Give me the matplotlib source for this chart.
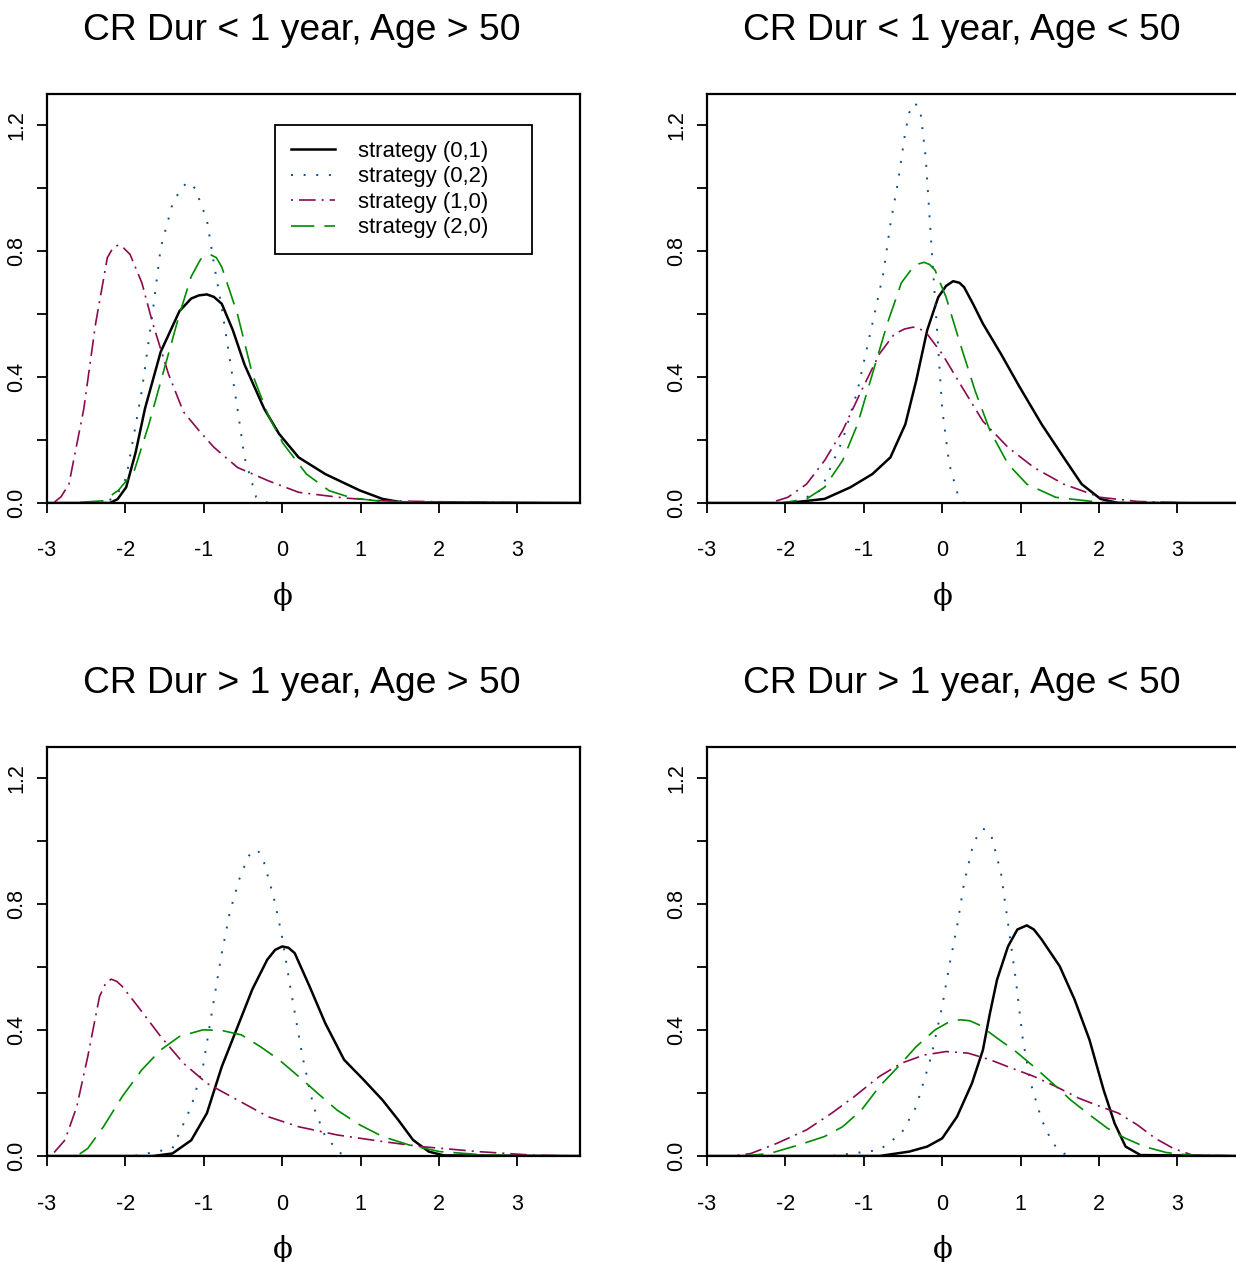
import matplotlib
matplotlib.use("Agg")
import matplotlib.pyplot as plt

plt.rcParams["font.family"] = ["Liberation Sans", "DejaVu Sans"]

# panel titles, in drawing order: TL, TR, BL, BR
titles = [
    "CR Dur < 1 year, Age > 50",
    "CR Dur < 1 year, Age < 50",
    "CR Dur > 1 year, Age > 50",
    "CR Dur > 1 year, Age < 50",
]
labels = ["strategy (0,1)", "strategy (0,2)", "strategy (1,0)", "strategy (2,0)"]

# ---- CR Dur < 1 year, Age > 50 ----
tl_s01_x = [-3.0, -2.2, -2.1, -1.99, -1.87, -1.75, -1.55, -1.31, -1.16, -1.06, -0.96, -0.87, -0.77, -0.63, -0.48, -0.23, -0.04, 0.21, 0.55, 0.99, 1.28, 1.53, 3.8]
tl_s01_y = [0.0, 0.0, 0.012, 0.05, 0.16, 0.30, 0.48, 0.61, 0.65, 0.66, 0.663, 0.655, 0.633, 0.55, 0.44, 0.30, 0.22, 0.145, 0.092, 0.04, 0.013, 0.002, 0.0]
tl_s02_x = [-3.0, -2.28, -2.12, -1.99, -1.79, -1.65, -1.55, -1.40, -1.30, -1.21, -1.11, -0.96, -0.87, -0.77, -0.67, -0.57, -0.48, -0.33, -0.18, 3.8]
tl_s02_y = [0.0, 0.0, 0.02, 0.08, 0.357, 0.61, 0.81, 0.95, 0.995, 1.02, 1.0, 0.90, 0.76, 0.62, 0.46, 0.30, 0.145, 0.018, 0.0, 0.0]
tl_s10_x = [-3.0, -2.92, -2.82, -2.72, -2.53, -2.38, -2.23, -2.16, -2.09, -2.02, -1.94, -1.79, -1.65, -1.45, -1.26, -1.06, -0.87, -0.57, -0.18, 0.21, 0.79, 1.28, 2.26, 3.48, 3.8]
tl_s10_y = [0.0, 0.0, 0.02, 0.06, 0.30, 0.57, 0.78, 0.81, 0.82, 0.81, 0.79, 0.70, 0.57, 0.41, 0.29, 0.23, 0.177, 0.113, 0.071, 0.034, 0.016, 0.007, 0.003, 0.0, 0.0]
tl_s20_x = [-3.0, -2.72, -2.28, -2.09, -1.89, -1.70, -1.50, -1.31, -1.16, -1.04, -0.92, -0.84, -0.77, -0.57, -0.38, -0.18, 0.01, 0.31, 0.60, 0.89, 1.28, 2.6, 3.8]
tl_s20_y = [0.0, 0.0, 0.007, 0.04, 0.10, 0.25, 0.43, 0.60, 0.72, 0.775, 0.79, 0.78, 0.75, 0.60, 0.41, 0.28, 0.19, 0.092, 0.039, 0.016, 0.005, 0.0, 0.0]

# ---- CR Dur < 1 year, Age < 50 ----
tr_s01_x = [-3.0, -1.97, -1.5, -1.17, -0.89, -0.66, -0.47, -0.33, -0.19, -0.05, 0.05, 0.14, 0.22, 0.28, 0.40, 0.52, 0.75, 0.99, 1.27, 1.55, 1.78, 2.02, 2.25, 3.8]
tr_s01_y = [0.0, 0.0, 0.013, 0.05, 0.092, 0.145, 0.25, 0.39, 0.55, 0.654, 0.69, 0.705, 0.70, 0.686, 0.63, 0.57, 0.474, 0.368, 0.25, 0.145, 0.06, 0.013, 0.0, 0.0]
tr_s02_x = [-3.0, -1.88, -1.55, -1.27, -1.08, -0.89, -0.75, -0.66, -0.56, -0.47, -0.42, -0.37, -0.32, -0.28, -0.21, -0.14, -0.07, 0.0, 0.09, 0.21, 0.28, 3.8]
tr_s02_y = [0.0, 0.0, 0.04, 0.20, 0.357, 0.57, 0.73, 0.887, 1.025, 1.18, 1.24, 1.27, 1.265, 1.25, 1.10, 0.83, 0.57, 0.30, 0.124, 0.018, 0.0, 0.0]
tr_s10_x = [-3.0, -2.2, -1.97, -1.73, -1.5, -1.27, -1.03, -0.80, -0.61, -0.48, -0.37, -0.28, -0.19, 0.0, 0.23, 0.52, 0.84, 1.17, 1.55, 2.02, 2.49, 3.19, 3.8]
tr_s10_y = [0.0, 0.0, 0.018, 0.06, 0.135, 0.23, 0.357, 0.474, 0.537, 0.553, 0.559, 0.553, 0.537, 0.474, 0.378, 0.26, 0.177, 0.113, 0.06, 0.018, 0.005, 0.0, 0.0]
tr_s20_x = [-3.0, -2.06, -1.73, -1.5, -1.27, -1.08, -0.89, -0.70, -0.52, -0.37, -0.30, -0.23, -0.16, -0.09, 0.05, 0.23, 0.42, 0.61, 0.84, 1.08, 1.45, 2.02, 3.8]
tr_s20_y = [0.0, 0.0, 0.013, 0.05, 0.135, 0.25, 0.41, 0.57, 0.70, 0.75, 0.76, 0.765, 0.758, 0.74, 0.654, 0.506, 0.357, 0.23, 0.124, 0.06, 0.018, 0.002, 0.0]

# ---- CR Dur > 1 year, Age > 50 ----
bl_s01_x = [-3.0, -1.65, -1.40, -1.16, -0.96, -0.77, -0.57, -0.38, -0.19, -0.09, 0.0, 0.08, 0.16, 0.35, 0.55, 0.79, 1.04, 1.28, 1.48, 1.67, 1.87, 2.06, 3.8]
bl_s01_y = [0.0, 0.0, 0.008, 0.05, 0.136, 0.284, 0.41, 0.53, 0.624, 0.655, 0.666, 0.662, 0.645, 0.539, 0.422, 0.306, 0.242, 0.178, 0.115, 0.051, 0.014, 0.002, 0.0]
bl_s02_x = [-3.0, -1.89, -1.40, -1.16, -1.01, -0.94, -0.87, -0.77, -0.67, -0.55, -0.43, -0.35, -0.29, -0.23, -0.11, -0.01, 0.11, 0.26, 0.40, 0.55, 0.75, 0.89, 3.8]
bl_s02_y = [0.0, 0.0, 0.024, 0.157, 0.284, 0.39, 0.497, 0.645, 0.772, 0.878, 0.953, 0.974, 0.965, 0.932, 0.825, 0.709, 0.528, 0.316, 0.157, 0.062, 0.008, 0.0, 0.0]
bl_s10_x = [-3.0, -2.92, -2.77, -2.62, -2.48, -2.33, -2.25, -2.18, -2.11, -2.04, -1.84, -1.55, -1.26, -0.96, -0.57, -0.18, 0.21, 0.70, 1.28, 1.77, 2.50, 3.24, 3.8]
bl_s10_y = [0.0, 0.008, 0.051, 0.157, 0.316, 0.507, 0.55, 0.562, 0.555, 0.539, 0.475, 0.38, 0.295, 0.231, 0.178, 0.125, 0.093, 0.067, 0.046, 0.03, 0.014, 0.002, 0.0]
bl_s20_x = [-3.0, -2.62, -2.48, -2.28, -2.04, -1.79, -1.55, -1.31, -1.01, -0.77, -0.52, -0.28, -0.04, 0.21, 0.45, 0.70, 0.99, 1.28, 1.62, 2.01, 2.50, 2.99, 3.8]
bl_s20_y = [0.0, 0.0, 0.024, 0.093, 0.189, 0.274, 0.337, 0.38, 0.401, 0.399, 0.385, 0.348, 0.306, 0.253, 0.20, 0.146, 0.099, 0.062, 0.035, 0.014, 0.005, 0.0, 0.0]

# ---- CR Dur > 1 year, Age < 50 ----
br_s01_x = [-3.0, -0.80, -0.42, -0.19, 0.0, 0.19, 0.38, 0.52, 0.61, 0.70, 0.84, 0.96, 1.08, 1.17, 1.27, 1.50, 1.69, 1.88, 2.06, 2.20, 2.34, 2.53, 3.8]
br_s01_y = [0.0, 0.0, 0.014, 0.03, 0.056, 0.125, 0.231, 0.337, 0.454, 0.56, 0.666, 0.72, 0.733, 0.72, 0.688, 0.603, 0.497, 0.369, 0.21, 0.104, 0.03, 0.003, 0.0]
br_s02_x = [-3.0, -1.41, -0.80, -0.52, -0.33, -0.14, 0.0, 0.09, 0.19, 0.28, 0.38, 0.45, 0.52, 0.58, 0.63, 0.75, 0.84, 0.94, 1.03, 1.13, 1.27, 1.41, 1.55, 1.69, 3.8]
br_s02_y = [0.0, 0.0, 0.019, 0.072, 0.157, 0.316, 0.475, 0.603, 0.73, 0.868, 0.974, 1.02, 1.04, 1.035, 1.016, 0.90, 0.74, 0.56, 0.369, 0.231, 0.115, 0.04, 0.008, 0.0, 0.0]
br_s10_x = [-3.0, -2.67, -2.44, -2.11, -1.73, -1.41, -1.12, -0.80, -0.52, -0.23, 0.05, 0.33, 0.61, 0.89, 1.17, 1.45, 1.74, 2.02, 2.25, 2.49, 2.72, 2.95, 3.19, 3.8]
br_s10_y = [0.0, 0.0, 0.008, 0.04, 0.083, 0.136, 0.189, 0.253, 0.295, 0.321, 0.332, 0.327, 0.306, 0.279, 0.253, 0.221, 0.184, 0.157, 0.136, 0.099, 0.056, 0.024, 0.003, 0.0]
br_s20_x = [-3.0, -2.53, -2.20, -1.83, -1.50, -1.27, -1.03, -0.80, -0.56, -0.33, -0.09, 0.08, 0.23, 0.35, 0.47, 0.70, 0.94, 1.17, 1.41, 1.64, 1.88, 2.11, 2.34, 2.58, 2.86, 3.19, 3.8]
br_s20_y = [0.0, 0.0, 0.008, 0.035, 0.062, 0.093, 0.146, 0.221, 0.284, 0.348, 0.401, 0.425, 0.433, 0.43, 0.417, 0.375, 0.332, 0.284, 0.231, 0.178, 0.131, 0.088, 0.056, 0.03, 0.011, 0.002, 0.0]

panels = [
    [(tl_s01_x, tl_s01_y), (tl_s02_x, tl_s02_y), (tl_s10_x, tl_s10_y), (tl_s20_x, tl_s20_y)],
    [(tr_s01_x, tr_s01_y), (tr_s02_x, tr_s02_y), (tr_s10_x, tr_s10_y), (tr_s20_x, tr_s20_y)],
    [(bl_s01_x, bl_s01_y), (bl_s02_x, bl_s02_y), (bl_s10_x, bl_s10_y), (bl_s20_x, bl_s20_y)],
    [(br_s01_x, br_s01_y), (br_s02_x, br_s02_y), (br_s10_x, br_s10_y), (br_s20_x, br_s20_y)],
]

colors = ["black", "#104E8B", "#8B0A50", "#008B00"]
widths = [1.8, 1.4, 1.2, 1.2]
styles = ["-", (0, (1, 5.5)), (0, (1.2, 3.6, 10, 3.6)), (0, (14, 6))]

W, H = 1236, 1262
fig = plt.figure(figsize=(W / 100, H / 100), dpi=100)

# axes boxes in pixels: (left, top)
boxes = [(47, 94), (707, 94), (47, 747), (707, 747)]
box_w, box_h = 533, 409
title_pos = [(302, 30), (962, 30), (302, 683), (962, 683)]

for idx, curves in enumerate(panels):
    left, top = boxes[idx]
    ax = fig.add_axes([left / W, 1 - (top + box_h) / H, box_w / W, box_h / H])
    for k, (xs, ys) in enumerate(curves):
        ax.plot(xs, ys, color=colors[k], lw=widths[k], linestyle=styles[k],
                label=labels[k], solid_joinstyle="round")
    ax.set_xlim(-3, 3.8)
    ax.set_ylim(0, 1.3)
    ax.set_xticks(range(-3, 4))
    ax.set_xticklabels([str(v) for v in range(-3, 4)])
    ax.set_yticks([0.0, 0.2, 0.4, 0.6, 0.8, 1.0, 1.2])
    ax.set_yticklabels(["0.0", "", "0.4", "", "0.8", "", "1.2"], rotation=90, va="center")
    ax.tick_params(axis="both", direction="out", length=7, width=1.3, labelsize=15.5)
    ax.tick_params(axis="x", pad=20)
    ax.tick_params(axis="y", pad=7)
    for sp in ax.spines.values():
        sp.set_linewidth(1.6)
    ax.set_xlabel("\u03d5", family=["DejaVu Serif"], fontsize=21)
    ax.xaxis.set_label_coords(0.442, -0.193)
    tx, ty = title_pos[idx]
    fig.text(tx / W, 1 - ty / H, titles[idx], ha="center", va="center", fontsize=26.8)
    if idx == 0:
        leg = ax.legend(loc="upper left", bbox_to_anchor=(0.428, 0.613, 0.482, 0.311),
                        mode="expand", fontsize=15.9, handlelength=2.0, handletextpad=1.05,
                        labelspacing=0.2, borderpad=0.72, fancybox=False,
                        edgecolor="black", framealpha=1, borderaxespad=0)
        leg.get_frame().set_linewidth(1.3)

fig.savefig("out.png", dpi=100)
